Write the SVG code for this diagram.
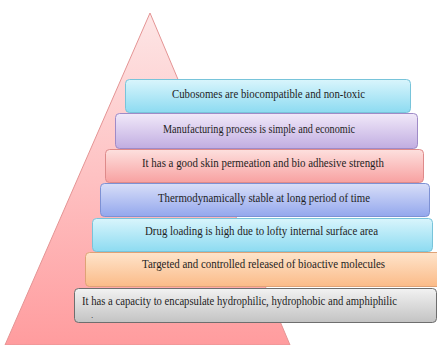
<svg xmlns="http://www.w3.org/2000/svg" width="437" height="345" viewBox="0 0 437 345">
<defs>
<linearGradient id="gTri" x1="0" y1="0" x2="0" y2="1"><stop offset="0" stop-color="#fde6e6"/><stop offset="1" stop-color="#ff9c9e"/></linearGradient>
<linearGradient id="gCyan" x1="0" y1="0" x2="0" y2="1"><stop offset="0" stop-color="#d9f5fc"/><stop offset="1" stop-color="#8ddbf1"/></linearGradient>
<linearGradient id="gLav" x1="0" y1="0" x2="0" y2="1"><stop offset="0" stop-color="#f1e9f9"/><stop offset="1" stop-color="#c1ade1"/></linearGradient>
<linearGradient id="gPink" x1="0" y1="0" x2="0" y2="1"><stop offset="0" stop-color="#fde0de"/><stop offset="1" stop-color="#f8a1a1"/></linearGradient>
<linearGradient id="gBlue" x1="0" y1="0" x2="0" y2="1"><stop offset="0" stop-color="#d8def8"/><stop offset="1" stop-color="#93a7ed"/></linearGradient>
<linearGradient id="gPeach" x1="0" y1="0" x2="0" y2="1"><stop offset="0" stop-color="#fee4cb"/><stop offset="1" stop-color="#fbbb88"/></linearGradient>
<linearGradient id="gGray" x1="0" y1="0" x2="0" y2="1"><stop offset="0" stop-color="#f2f2f2"/><stop offset="1" stop-color="#c3c3c3"/></linearGradient>
</defs>
<style>
.b{stroke-width:1;}
</style>
<g id="pyramid">
<polygon points="150,13 290,345 5,345" fill="url(#gTri)" stroke="#e49494" stroke-width="1"/>
</g>
<g id="connectors"/>
<g font-family="Liberation Serif, Times New Roman, DejaVu Serif, serif" font-size="11.5" fill="#1e1e1e">
<g id="level7">
<rect class="b" x="74.5" y="288.5" width="362" height="34" rx="4" fill="url(#gGray)" stroke="#6e6e6e"/>
<text x="82" y="305" textLength="315" lengthAdjust="spacingAndGlyphs">It has a capacity to encapsulate hydrophilic, hydrophobic and amphiphilic</text>
<text x="91" y="318" font-size="9">.</text>
</g>
<g id="level6">
<rect class="b" x="85.5" y="252.5" width="360" height="34" rx="4" fill="url(#gPeach)" stroke="#dfa276"/>
<text x="142" y="268" textLength="243" lengthAdjust="spacingAndGlyphs">Targeted and controlled released of bioactive molecules</text>
</g>
<g id="level5">
<rect class="b" x="92.5" y="218.5" width="340" height="33" rx="4" fill="url(#gCyan)" stroke="#78c4da"/>
<text x="145" y="235" textLength="233" lengthAdjust="spacingAndGlyphs">Drug loading is high due to lofty internal surface area</text>
</g>
<g id="level4">
<rect class="b" x="100.5" y="183.5" width="329" height="33" rx="4" fill="url(#gBlue)" stroke="#7d91d4"/>
<text x="158" y="202" textLength="212" lengthAdjust="spacingAndGlyphs">Thermodynamically stable at long period of time</text>
</g>
<g id="level3">
<rect class="b" x="105.5" y="149.5" width="318" height="33" rx="4" fill="url(#gPink)" stroke="#de8a8a"/>
<text x="142" y="167" textLength="242" lengthAdjust="spacingAndGlyphs">It has a good skin permeation and bio adhesive strength</text>
</g>
<g id="level2">
<rect class="b" x="115.5" y="113.5" width="302" height="35" rx="4" fill="url(#gLav)" stroke="#9f8bc7"/>
<text x="163" y="133" textLength="192" lengthAdjust="spacingAndGlyphs">Manufacturing process is simple and economic</text>
</g>
<g id="level1">
<rect class="b" x="125.5" y="79.5" width="285" height="33" rx="4" fill="url(#gCyan)" stroke="#78c4da"/>
<text x="172" y="98" textLength="193" lengthAdjust="spacingAndGlyphs">Cubosomes are biocompatible and non-toxic</text>
</g>
</g>
</svg>
